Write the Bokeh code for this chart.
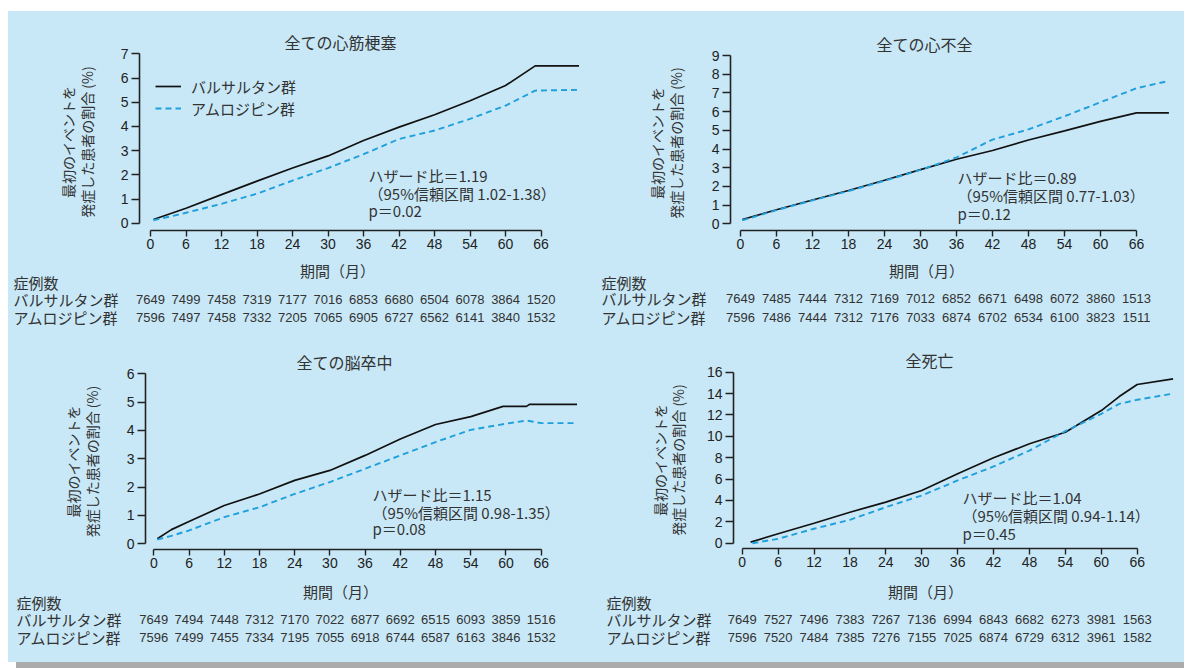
from bokeh.plotting import figure
from bokeh.layouts import column, row
from bokeh.models import Range1d, FixedTicker, Legend, LegendItem, Spacer, Title
from bokeh.core.properties import value
from bokeh.embed import file_html
from bokeh.resources import INLINE

BG = "#C8E8F7"
BLUE = "#1F9FDC"
INK = "#222222"
TXT = "#333333"
GRAY = "#ABABAB"
JP = "Noto Sans CJK JP"
NUM = "Liberation Sans"

# ---------------- data ----------------
titles = ["全ての心筋梗塞", "全ての心不全", "全ての脳卒中", "全死亡"]
group_names = ["バルサルタン群", "アムロジピン群"]
risk_header = "症例数"
x_label = "期間（月）"
y_label = "最初のイベントを\n発症した患者の割合 (%)"
month_ticks = [0, 6, 12, 18, 24, 30, 36, 42, 48, 54, 60, 66]

y_ticks_mi = [0, 1, 2, 3, 4, 5, 6, 7]
y_ticks_hf = [0, 1, 2, 3, 4, 5, 6, 7, 8, 9]
y_ticks_st = [0, 1, 2, 3, 4, 5, 6]
y_ticks_de = [0, 2, 4, 6, 8, 10, 12, 14, 16]

# 全ての心筋梗塞
mi_val_months = [0.5, 6, 12, 18, 24, 30, 36, 42, 48, 54, 60, 65, 72.4]
mi_val = [0.15, 0.62, 1.18, 1.74, 2.28, 2.78, 3.42, 3.97, 4.48, 5.06, 5.69, 6.5, 6.5]
mi_aml_months = [0.5, 6, 12, 18, 24, 30, 36, 42, 48, 54, 60, 65, 72.4]
mi_aml = [0.12, 0.43, 0.8, 1.22, 1.76, 2.28, 2.85, 3.48, 3.83, 4.31, 4.86, 5.48, 5.51]

# 全ての心不全
hf_val_months = [0.3, 6, 12, 18, 24, 30, 36, 42, 48, 54, 60, 66, 71.4]
hf_val = [0.23, 0.75, 1.27, 1.78, 2.33, 2.9, 3.45, 3.92, 4.48, 4.97, 5.48, 5.93, 5.93]
hf_aml_months = [0.3, 6, 12, 18, 24, 30, 36, 42, 48, 54, 60, 66, 71.1]
hf_aml = [0.18, 0.73, 1.25, 1.75, 2.3, 2.88, 3.55, 4.5, 5.05, 5.75, 6.5, 7.25, 7.62]

# 全ての脳卒中
st_val_months = [0.6, 3, 6, 12, 18, 24, 30, 36, 42, 48, 54, 59.5, 63.5, 64, 72.1]
st_val = [0.18, 0.5, 0.79, 1.35, 1.76, 2.24, 2.59, 3.12, 3.7, 4.21, 4.49, 4.85, 4.85, 4.92, 4.92]
st_aml_months = [0.6, 3, 6, 12, 18, 24, 30, 36, 42, 48, 54, 60, 63.5, 66, 71.5]
st_aml = [0.15, 0.28, 0.47, 0.94, 1.29, 1.76, 2.18, 2.65, 3.12, 3.59, 4.02, 4.24, 4.35, 4.26, 4.26]

# 全死亡
de_val_months = [1.4, 6, 12, 18, 24, 30, 36, 42, 48, 54, 60, 63, 66, 72]
de_val = [0.1, 0.88, 1.87, 2.9, 3.84, 4.93, 6.49, 7.99, 9.3, 10.38, 12.41, 13.72, 14.85, 15.38]
de_aml_months = [1.7, 6, 12, 18, 24, 30, 36, 42, 48, 54, 60, 63, 66, 71.8]
de_aml = [0.0, 0.41, 1.35, 2.19, 3.37, 4.46, 5.87, 7.18, 8.67, 10.48, 12.1, 13.04, 13.42, 13.98]

hr_mi = ["ハザード比＝1.19", "（95%信頼区間 1.02-1.38）", "p＝0.02"]
hr_hf = ["ハザード比＝0.89", "（95%信頼区間 0.77-1.03）", "p＝0.12"]
hr_st = ["ハザード比＝1.15", "（95%信頼区間 0.98-1.35）", "p＝0.08"]
hr_de = ["ハザード比＝1.04", "（95%信頼区間 0.94-1.14）", "p＝0.45"]

risk_mi_val = [7649, 7499, 7458, 7319, 7177, 7016, 6853, 6680, 6504, 6078, 3864, 1520]
risk_mi_aml = [7596, 7497, 7458, 7332, 7205, 7065, 6905, 6727, 6562, 6141, 3840, 1532]
risk_hf_val = [7649, 7485, 7444, 7312, 7169, 7012, 6852, 6671, 6498, 6072, 3860, 1513]
risk_hf_aml = [7596, 7486, 7444, 7312, 7176, 7033, 6874, 6702, 6534, 6100, 3823, 1511]
risk_st_val = [7649, 7494, 7448, 7312, 7170, 7022, 6877, 6692, 6515, 6093, 3859, 1516]
risk_st_aml = [7596, 7499, 7455, 7334, 7195, 7055, 6918, 6744, 6587, 6163, 3846, 1532]
risk_de_val = [7649, 7527, 7496, 7383, 7267, 7136, 6994, 6843, 6682, 6273, 3981, 1563]
risk_de_aml = [7596, 7520, 7484, 7385, 7276, 7155, 7025, 6874, 6729, 6312, 3961, 1582]

# ---------------- layout geometry (page pixels) ----------------
W = 588
LEFT_PAD = 8
TOP_PAD = 11
geo = [
    dict(fx=8, fy=11, fh=248, yax=139, x0=150, x66=540.6, y0=222.7, ytop=53.3, xax=230,
         title=(340, 45), ann=(368, [175, 193, 210]), lab_standoff=21,
         tfy=259, tfh=81, period=(337, 270), header_y=282, rows_y=(299, 317), label_x=13),
    dict(fx=596, fy=11, fh=248, yax=730, x0=740, x66=1136, y0=223.3, ytop=55, xax=230,
         title=(924, 45), ann=(957, [177, 195, 213]), lab_standoff=23,
         tfy=259, tfh=81, period=(926, 270), header_y=282, rows_y=(298, 317), label_x=601),
    dict(fx=8, fy=340, fh=237, yax=145, x0=153.3, x66=540.7, y0=543.3, ytop=373.3, xax=549,
         title=(344, 363), ann=(372, [494, 512, 528]), lab_standoff=22,
         tfy=577, tfh=85, period=(340, 591), header_y=602, rows_y=(619, 637), label_x=16),
    dict(fx=596, fy=340, fh=237, yax=733, x0=741.7, x66=1136.7, y0=542.7, ytop=371.7, xax=548.3,
         title=(929, 364), ann=(962, [497, 515, 533]), lab_standoff=16,
         tfy=577, tfh=85, period=(925, 591), header_y=602, rows_y=(619, 637), label_x=606),
]


def no_align(fig):
    try:
        fig.frame_align = False
    except Exception:
        pass


def build(g, title, mv, vv, ma, va, yticks, ann, risk_v, risk_a, legend=False):
    right = 6
    left = int(round(g["yax"] - g["fx"]))
    top = int(g["ytop"] - g["fy"])
    bottom = int(round(g["fy"] + g["fh"] - g["xax"]))
    fl = g["fx"] + left
    ft = g["fy"] + top
    fb = g["fy"] + g["fh"] - bottom
    sx = (g["x66"] - g["x0"]) / 66.0
    xs = -(g["x0"] - fl) / sx
    xe = xs + (W - left - right) / sx
    ytv = yticks[-1]
    sy = (g["y0"] - g["ytop"]) / ytv
    ys = -(fb - g["y0"]) / sy
    ye = max((g["y0"] - ft) / sy, ytv + 1e-6)

    def dx(px):
        return xs + (px - fl) / sx

    def dy(py):
        return (g["y0"] - py) / sy

    p = figure(width=W, height=g["fh"], x_range=Range1d(xs, xe), y_range=Range1d(ys, ye),
               min_border_left=left, min_border_right=right, min_border_top=top,
               min_border_bottom=bottom, toolbar_location=None, output_backend="svg",
               background_fill_color=BG, border_fill_color=BG, outline_line_color=None)
    p.grid.visible = False
    no_align(p)

    tw = len(title) * 16
    p.add_layout(Title(text=title, align="left", offset=g["title"][0] - tw / 2 - fl,
                       standoff=0, text_font=JP, text_font_size="16px",
                       text_font_style="normal", text_color=TXT), "above")

    for ax in (p.xaxis[0], p.yaxis[0]):
        ax.axis_line_color = INK
        ax.axis_line_width = 1.6
        ax.major_tick_line_color = INK
        ax.major_tick_line_width = 1.4
        ax.major_tick_in = 0
        ax.minor_tick_line_color = None
        ax.major_label_text_font = NUM
        ax.major_label_text_font_size = "14px"
        ax.major_label_text_color = INK
    p.xaxis.ticker = FixedTicker(ticks=month_ticks)
    p.xaxis.bounds = (0, 66)
    p.xaxis.major_tick_out = 6
    p.xaxis.major_label_standoff = 2
    p.yaxis.ticker = FixedTicker(ticks=yticks)
    p.yaxis.bounds = (0, ytv)
    p.yaxis.major_tick_out = 8
    p.yaxis.major_label_standoff = 3
    p.yaxis.axis_label = y_label
    p.yaxis.axis_label_text_font = JP
    p.yaxis.axis_label_text_font_size = "14px"
    p.yaxis.axis_label_text_font_style = "normal"
    p.yaxis.axis_label_text_color = TXT
    p.yaxis.axis_label_standoff = g["lab_standoff"]
    p.yaxis.axis_label_text_line_height = 0.92

    rv = p.line(mv, vv, line_color="#111111", line_width=1.7)
    ra = p.line(ma, va, line_color=BLUE, line_width=1.9, line_dash="6 4")

    ax_, ays = g["ann"]
    p.text(x=[dx(ax_)] * 3, y=[dy(v) for v in ays], text=ann, text_font=value(JP),
           text_font_size="15px", text_align="left", text_baseline="middle", text_color=TXT)

    if legend:
        lg = Legend(items=[LegendItem(label=group_names[0], renderers=[rv]),
                           LegendItem(label=group_names[1], renderers=[ra])],
                    location=(16, int(round(fb - 119))), orientation="vertical",
                    background_fill_alpha=0, border_line_alpha=0, padding=0, margin=0,
                    spacing=0, label_height=22, glyph_height=22, glyph_width=26,
                    label_standoff=10, label_text_font=JP, label_text_font_size="15px",
                    label_text_color=TXT)
        p.add_layout(lg)

    # risk table figure (its frame spans the whole panel width)
    t = figure(width=W, height=g["tfh"], x_range=Range1d(dx(g["fx"]), dx(g["fx"] + W)),
               y_range=Range1d(g["tfh"], 0), min_border=0, toolbar_location=None,
               output_backend="svg", background_fill_color=BG, border_fill_color=BG,
               outline_line_color=None, x_axis_type=None, y_axis_type=None)
    t.grid.visible = False
    no_align(t)

    def ty(py):
        return py - g["tfy"]

    t.text(x=[dx(g["period"][0])], y=[ty(g["period"][1])], text=[x_label], text_font=value(JP),
           text_font_size="15px", text_align="center", text_baseline="middle", text_color=TXT)
    r1, r2 = g["rows_y"]
    t.text(x=[dx(g["label_x"])] * 3, y=[ty(g["header_y"]), ty(r1), ty(r2)],
           text=[risk_header, group_names[0], group_names[1]], text_font=value(JP),
           text_font_size="15px", text_align="left", text_baseline="middle", text_color=TXT)
    t.text(x=month_ticks, y=[ty(r1)] * len(month_ticks), text=[str(n) for n in risk_v],
           text_font=value(NUM), text_font_size="13px", text_align="center",
           text_baseline="middle", text_color=TXT)
    t.text(x=month_ticks, y=[ty(r2)] * len(month_ticks), text=[str(n) for n in risk_a],
           text_font=value(NUM), text_font_size="13px", text_align="center",
           text_baseline="middle", text_color=TXT)
    return column(p, t, spacing=0, styles={"background-color": BG})


c1 = build(geo[0], titles[0], mi_val_months, mi_val, mi_aml_months, mi_aml, y_ticks_mi,
           hr_mi, risk_mi_val, risk_mi_aml, legend=True)
c2 = build(geo[1], titles[1], hf_val_months, hf_val, hf_aml_months, hf_aml, y_ticks_hf,
           hr_hf, risk_hf_val, risk_hf_aml)
c3 = build(geo[2], titles[2], st_val_months, st_val, st_aml_months, st_aml, y_ticks_st,
           hr_st, risk_st_val, risk_st_aml)
c4 = build(geo[3], titles[3], de_val_months, de_val, de_aml_months, de_aml, y_ticks_de,
           hr_de, risk_de_val, risk_de_aml)

panels = column(row(c1, c2, spacing=0, styles={"background-color": BG}),
                row(c3, c4, spacing=0, styles={"background-color": BG}),
                spacing=0, styles={"background-color": BG})
shadow = row(Spacer(width=16, height=6),
             Spacer(width=1168, height=6, styles={"background-color": GRAY}), spacing=0)
layout = column(Spacer(width=1184, height=TOP_PAD),
                row(Spacer(width=LEFT_PAD, height=10), panels, spacing=0),
                shadow, spacing=0)

open("out.html", "w").write(file_html(layout, INLINE, "chart"))
